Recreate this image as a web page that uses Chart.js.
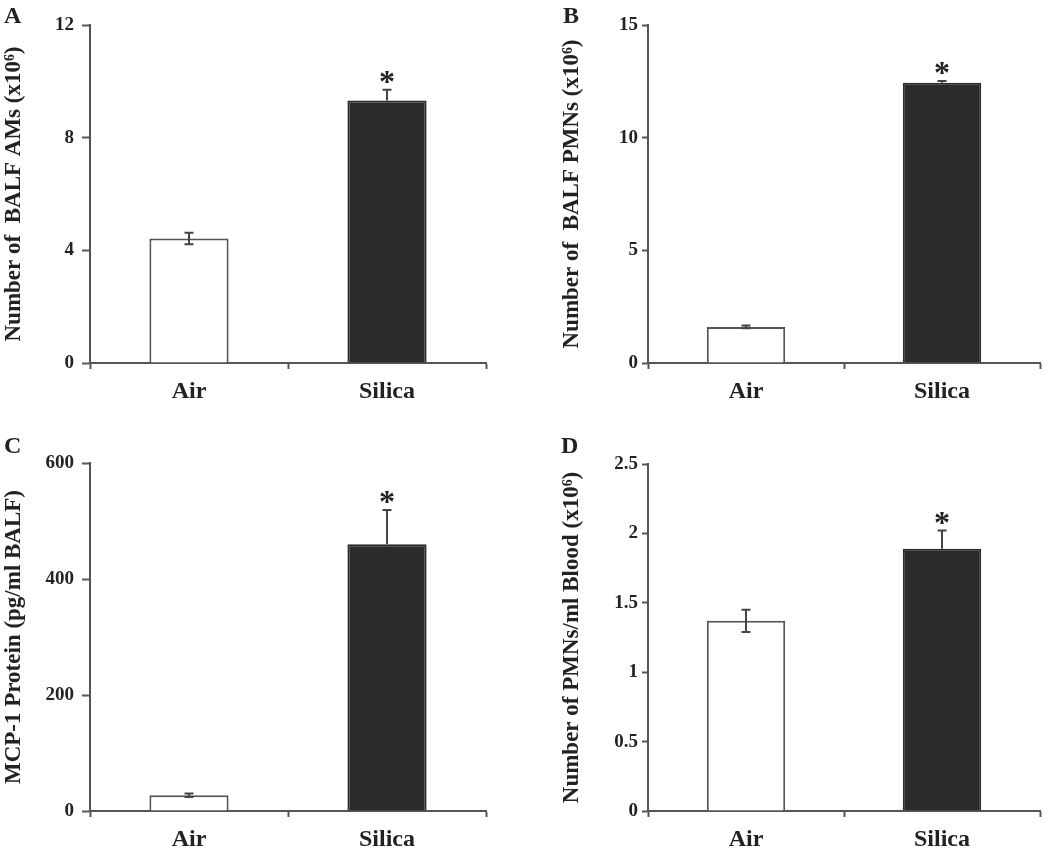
<!DOCTYPE html>
<html><head><meta charset="utf-8">
<script src="https://cdn.jsdelivr.net/npm/chart.js@4.4.1/dist/chart.umd.min.js"></script>
<style>
html,body{margin:0;padding:0;background:#fff;}
body{width:1050px;height:849px;position:relative;overflow:hidden;}
canvas{position:absolute;display:block;}
.lbl{position:absolute;font:bold 24px 'Liberation Serif',serif;color:#222;line-height:24px;}
</style></head><body>
<canvas id="cA" width="520" height="425" style="left:0;top:0"></canvas>
<canvas id="cB" width="530" height="425" style="left:520px;top:0"></canvas>
<canvas id="cC" width="520" height="424" style="left:0;top:425px"></canvas>
<canvas id="cD" width="530" height="424" style="left:520px;top:425px"></canvas>
<div class="lbl" style="left:4px;top:3px">A</div>
<div class="lbl" style="left:563px;top:3px">B</div>
<div class="lbl" style="left:4px;top:433px">C</div>
<div class="lbl" style="left:561px;top:433px">D</div>
<script>
const categories = ['Air', 'Silica'];

const valuesA = [4.42, 9.32];
const errorsA = [0.2, 0.38];
const ticksA = [0, 4, 8, 12];
const titleA = 'Number of  BALF AMs (x10\u2076)';

const valuesB = [1.6, 12.44];
const errorsB = [0.06, 0.08];
const ticksB = [0, 5, 10, 15];
const titleB = 'Number of  BALF PMNs (x10\u2076)';

const valuesC = [27, 460];
const errorsC = [3, 59];
const ticksC = [0, 200, 400, 600];
const titleC = 'MCP-1 Protein (pg/ml BALF)';

const valuesD = [1.37, 1.89];
const errorsD = [0.08, 0.13];
const ticksD = [0, 0.5, 1, 1.5, 2, 2.5];
const tickLabelsD = ['0', '0.5', '1', '1.5', '2', '2.5'];
const titleD = 'Number of PMNs/ml Blood (x10\u2076)';

const significant = [false, true];

const AXIS = '#555';
const FONT = "'Liberation Serif', 'Times New Roman', serif";

const errPlugin = {
  id: 'errbars',
  afterDatasetsDraw(chart, args, opts) {
    const ctx = chart.ctx;
    const meta = chart.getDatasetMeta(0);
    const ys = chart.scales.y;
    const vals = chart.data.datasets[0].data;
    const errs = opts.errors;
    ctx.save();
    meta.data.forEach((bar, i) => {
      const x = bar.x;
      const yTop = ys.getPixelForValue(vals[i] + errs[i]);
      const yMid = ys.getPixelForValue(vals[i]);
      const yBot = ys.getPixelForValue(vals[i] - errs[i]);
      ctx.strokeStyle = '#444';
      ctx.lineWidth = 2;
      ctx.beginPath();
      if (i === 0) {
        ctx.moveTo(x, yTop); ctx.lineTo(x, yBot);
        ctx.moveTo(x - 4.5, yTop); ctx.lineTo(x + 4.5, yTop);
        ctx.moveTo(x - 4.5, yBot); ctx.lineTo(x + 4.5, yBot);
      } else {
        ctx.moveTo(x, yTop); ctx.lineTo(x, yMid);
        ctx.moveTo(x - 4.5, yTop); ctx.lineTo(x + 4.5, yTop);
      }
      ctx.stroke();
      if (significant[i]) {
        ctx.fillStyle = '#222';
        ctx.font = 'bold 32px ' + FONT;
        ctx.textAlign = 'center';
        ctx.textBaseline = 'alphabetic';
        ctx.fillText('*', x, yTop + 2);
      }
    });
    ctx.restore();
  }
};

function makePanel(id, vals, errs, ticks, tickLabels, title, axisW, xH, padTop, padRight, titlePad, tickLen, tickPad) {
  new Chart(document.getElementById(id), {
    type: 'bar',
    data: {
      labels: categories,
      datasets: [{
        data: vals,
        backgroundColor: ['#ffffff', '#2b2b2b'],
        borderColor: ['#555', '#2b2b2b'],
        borderWidth: 2,
        borderSkipped: 'bottom',
        barPercentage: 0.4,
        categoryPercentage: 1.0
      }]
    },
    options: {
      responsive: false,
      animation: false,
      events: [],
      layout: { padding: { top: padTop, right: padRight, left: 0, bottom: 0 } },
      plugins: {
        legend: { display: false },
        tooltip: { enabled: false },
        errbars: { errors: errs }
      },
      scales: {
        x: {
          offset: true,
          grid: { display: true, drawOnChartArea: false, drawTicks: true, tickLength: 6, tickWidth: 2, color: AXIS, offset: true },
          border: { display: true, color: AXIS, width: 2 },
          ticks: { color: '#222', font: { family: FONT, size: 24, weight: 'bold' }, padding: 8, maxRotation: 0 },
          afterFit(s) { s.height = xH; }
        },
        y: {
          min: ticks[0], max: ticks[ticks.length - 1],
          afterBuildTicks(s) { s.ticks = ticks.map(v => ({ value: v })); },
          grid: { display: true, drawOnChartArea: false, drawTicks: true, tickLength: tickLen, tickWidth: 2, color: AXIS },
          border: { display: true, color: AXIS, width: 2 },
          ticks: {
            color: '#222', font: { family: FONT, size: 19, weight: 'bold' }, padding: tickPad,
            callback(v, i) { return tickLabels[i]; }
          },
          title: { display: true, text: title, color: '#222', font: { family: FONT, size: 23, weight: 'bold' }, padding: { top: titlePad, bottom: 0 } },
          afterFit(s) { s.width = axisW; }
        }
      }
    },
    plugins: [errPlugin]
  });
}

makePanel('cA', valuesA, errorsA, ticksA, ticksA.map(String), titleA, 90, 62, 25, 34, 0, 8, 8);
makePanel('cB', valuesB, errorsB, ticksB, ticksB.map(String), titleB, 128, 62, 25, 10, 38, 6, 4);
makePanel('cC', valuesC, errorsC, ticksC, ticksC.map(String), titleC, 90, 38, 38, 34, 0, 8, 8);
makePanel('cD', valuesD, errorsD, ticksD, tickLabelsD, titleD, 128, 38, 39, 10, 38, 6, 4);
</script>
</body></html>
